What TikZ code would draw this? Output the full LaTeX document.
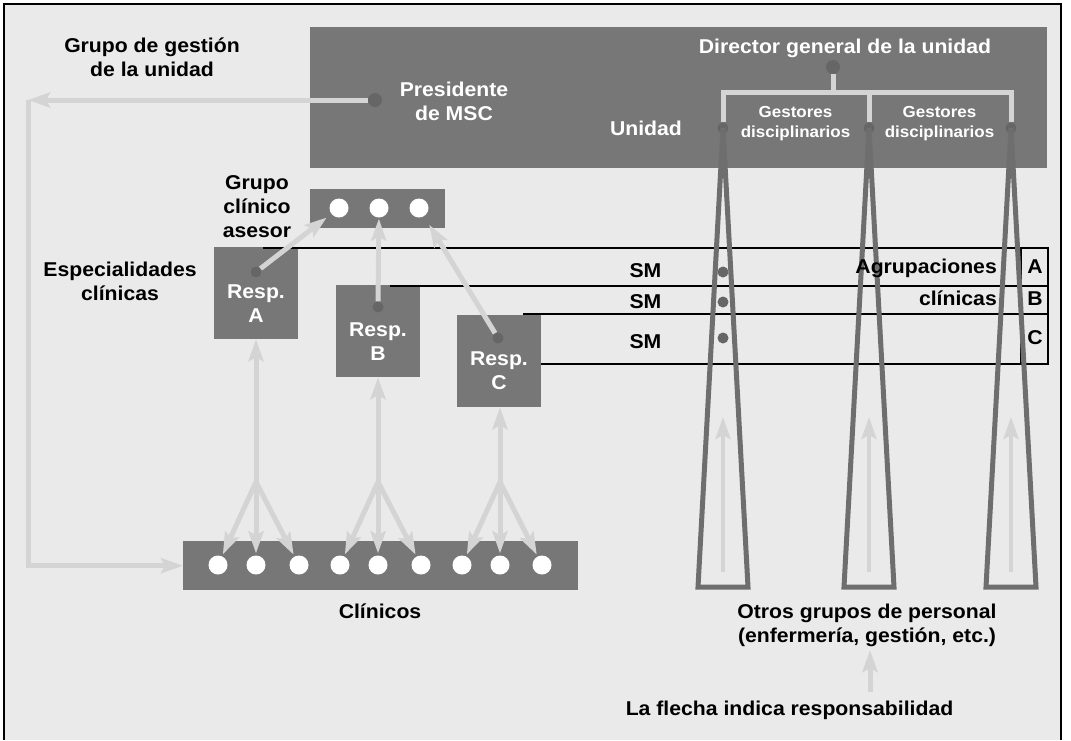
\documentclass[tikz,border=0pt]{standalone}
\usepackage{fontspec}
\setmainfont{Liberation Sans}[FakeStretch=1.06]
\usetikzlibrary{arrows.meta}
\definecolor{fondogris}{HTML}{EAEAEA}
\definecolor{cajagris}{HTML}{777777}
\definecolor{lineagris}{HTML}{D4D4D4}
\definecolor{puntogris}{HTML}{666666}
\definecolor{puagris}{HTML}{6E6E6E}

\begin{document}
\begin{tikzpicture}[x=1pt,y=-1pt,
  caja/.style={fill=cajagris,inner sep=0pt,anchor=north west},
  resp/.style={fill=cajagris,inner sep=0pt,minimum width=84pt,minimum height=92pt},
  blanco/.style={circle,fill=white,inner sep=0pt,minimum size=19pt},
  punto/.style={circle,fill=puntogris,inner sep=0pt,minimum size=#1},
  punto/.default=11pt,
  etiqueta/.style={font=\fontsize{20}{24}\selectfont\bfseries,align=center,inner sep=0pt},
  etiquetab/.style={etiqueta,text=white},
  pequena/.style={font=\fontsize{16}{20}\selectfont\bfseries,align=center,inner sep=0pt,text=white},
  conn/.style={draw=lineagris,line width=5pt},
  flecha/.style={conn,-{Stealth[length=22pt,width=15pt,inset=4pt]}},
  banda/.style={draw=black,line width=2.5pt},
  pua/.style={draw=puagris,line width=5pt,line join=miter}
]
\useasboundingbox (0,0) rectangle (1071,740);
\fill[fondogris] (4,4) rectangle (1061,740);
\draw[line width=1.2pt] (4,740) -- (4,4) -- (1061,4) -- (1061,740);

% cajas
\node[caja,minimum width=737pt,minimum height=141pt] (unidad) at (310,27) {};
\node[caja,minimum width=135pt,minimum height=39pt] (asesorcaja) at (310,189) {};
\node[caja,minimum width=395pt,minimum height=49pt] (clin) at (183,541) {};
\node[resp] (respA) at (256,293) {};
\node[resp] (respB) at (378,331) {};
\node[resp] (respC) at (499,361) {};

% agrupaciones clinicas
\draw[banda] (263,248) -- (1048,248);
\draw[banda] (390,286) -- (1048,286);
\draw[banda] (523,314) -- (1048,314);
\draw[banda] (541,364) -- (1048,364);
\draw[banda] (1048,246.75) -- (1048,365.25);
\draw[banda] (1021,248) -- (1021,364);

% gestores
\node[punto] (g1) at (723,128) {};
\node[punto] (g2) at (869,128) {};
\node[punto] (g3) at (1011,128) {};
\foreach \g/\x in {g1/723,g2/869,g3/1011}{
  \draw[pua] (\g.center) -- (\x-25,587) -- (\x+25,587) -- cycle;
  \coordinate (ini\g) at (\x,572);
  \coordinate (fin\g) at (\x,417);
  \draw[flecha,line width=4pt] (ini\g) -- (fin\g);
}

% director
\coordinate (barra) at (833,92);
\draw[conn] (g1) |- (barra) -| (g3);
\draw[conn] (g2) -- (g2 |- barra);
\node[punto=14pt] (dir) at (833,67) {};
\draw[conn] (dir) -- (barra);

% presidente
\node[punto=14pt] (pres) at (375,100) {};
\coordinate (esq) at (28,100);
\draw[flecha] (pres) -- (esq);
\draw[flecha] (esq) |- (clin.west);

% grupo asesor
\node[blanco] (a1) at (339,208) {};
\node[blanco] (a2) at (379,208) {};
\node[blanco] (a3) at (419,208) {};

% clinicos
\foreach \n/\x in {1/218,2/256,3/299,4/340,5/378,6/421,7/462,8/500,9/542}
  \node[blanco] (c\n) at (\x,565) {};
\coordinate (jA) at (256,482);
\coordinate (jB) at (378,482);
\coordinate (jC) at (500,482);
\foreach \j/\a/\b/\c/\r in {jA/c1/c2/c3/respA,jB/c4/c5/c6/respB,jC/c7/c8/c9/respC}{
  \draw[flecha] (\j) -- (\j |- \r.south);
  \foreach \d in {\a,\b,\c}
    \draw[flecha,shorten >=2pt] (\j) -- (\d);
}

% responsables
\node[punto] (ra) at (256,272) {};
\node[punto] (rb) at (378,307) {};
\node[punto] (rc) at (498,338) {};
\draw[flecha,shorten >=6pt] (ra) -- (a1);
\draw[flecha,shorten >=1pt] (rb) -- (a2);
\draw[flecha,shorten >=10pt] (rc) -- (a3);
\node[punto] (sa) at (723,272) {};
\node[punto] (sb) at (723,302) {};
\node[punto] (sc) at (723,338) {};

% textos
\node[etiqueta] (gestion) at (152,57) {Grupo de gestión\\de la unidad};
\node[etiquetab] (presi) at (454,101) {Presidente\\de MSC};
\node[etiquetab,anchor=base] (director) at (845,53) {Director general de la unidad};
\node[etiquetab,anchor=base] (unid) at (646,135) {Unidad};
\node[pequena] (gest1) at (795.5,124) {Gestores\\disciplinarios};
\node[pequena] (gest2) at (939.5,124) {Gestores\\disciplinarios};
\node[etiqueta] (asesor) at (257,206.5) {Grupo\\clínico\\asesor};
\node[etiqueta] (espec) at (120,281.5) {Especialidades\\clínicas};
\node[etiquetab] (txtA) at (256,304) {Resp.\\A};
\node[etiquetab] (txtB) at (378,342) {Resp.\\B};
\node[etiquetab] (txtC) at (499,371) {Resp.\\C};
\node[etiqueta,anchor=base] (smA) at (645.5,277) {SM};
\node[etiqueta,anchor=base] (smB) at (645.5,308) {SM};
\node[etiqueta,anchor=base] (smC) at (645.5,348) {SM};
\node[etiqueta,anchor=base east] (agrup) at (997,273) {Agrupaciones};
\node[etiqueta,anchor=base east] (clinicas) at (997,305) {clínicas};
\node[etiqueta,anchor=base] (letA) at (1035,273) {A};
\node[etiqueta,anchor=base] (letB) at (1035,305) {B};
\node[etiqueta,anchor=base] (letC) at (1035,344) {C};
\node[etiqueta,anchor=base] (clinicos) at (380,618) {Clínicos};
\node[etiqueta] (otros) at (867,625) {Otros grupos de personal\\(enfermería, gestión, etc.)};
\node[etiqueta,anchor=base] (leyenda) at (789.5,715) {La flecha indica responsabilidad};
\coordinate (leyflecha) at (870,692);
\draw[flecha] (leyflecha) -- (870,650);
\end{tikzpicture}
\end{document}
